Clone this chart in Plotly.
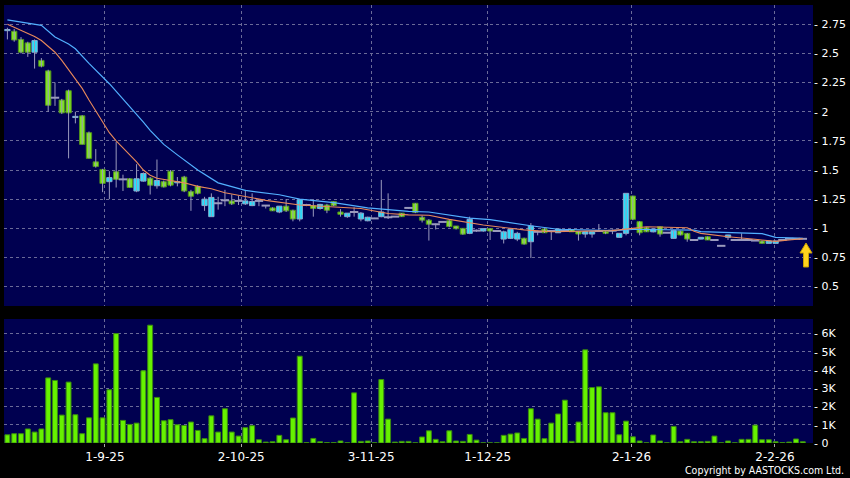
import plotly.graph_objects as go

# ---------------- data ----------------
opens = [2.695,2.69,2.62,2.59,2.51,2.44,2.35,2.12,2.10,2.18,
         1.95,1.965,1.82,1.57,1.505,1.40,1.485,1.42,1.425,1.32,
         1.405,1.43,1.365,1.40,1.49,1.39,1.44,1.315,1.36,1.195,
         1.10,1.215,1.24,1.235,1.235,1.21,1.195,1.235,1.195,1.175,
         1.14,1.19,1.155,1.08,1.20,1.195,1.17,1.20,1.23,1.14,
         1.10,1.14,1.08,1.065,1.085,1.10,1.095,1.10,1.13,1.175,
         1.215,1.095,1.07,1.035,1.055,1.065,1.02,1.0,0.957,0.98,
         0.977,0.997,0.977,0.908,0.914,0.908,0.915,0.885,0.97,0.994,
         0.977,0.962,0.977,0.99,0.974,0.951,0.951,0.977,0.974,0.98,
         0.923,0.957,1.277,1.057,1.005,0.97,1.014,0.962,0.914,0.977,
         0.957,0.90,0.908,0.928,0.90,0.85,0.923,0.90,0.90,0.90,
         0.895,0.891,0.871,0.871,0.90,0.91,0.91,0.91]
highs = [2.72,2.71,2.64,2.60,2.62,2.46,2.36,2.25,2.11,2.19,
         2.00,1.97,1.83,1.68,1.51,1.49,1.74,1.46,1.43,1.55,
         1.48,1.44,1.59,1.41,1.50,1.44,1.45,1.33,1.37,1.27,
         1.30,1.27,1.33,1.29,1.28,1.33,1.30,1.25,1.195,1.18,
         1.19,1.25,1.16,1.25,1.21,1.25,1.21,1.21,1.23,1.165,
         1.13,1.18,1.14,1.10,1.09,1.415,1.30,1.10,1.13,1.18,
         1.215,1.11,1.08,1.04,1.06,1.07,1.02,1.0,1.10,0.99,
         1.0,1.0,0.98,0.98,0.99,0.97,0.92,1.045,0.98,1.0,
         0.98,0.995,0.98,0.99,0.975,0.975,0.975,1.037,0.975,0.99,
         0.96,1.30,1.28,1.06,1.01,0.995,1.015,0.962,0.98,0.98,
         0.96,0.90,0.925,0.93,0.90,0.85,0.945,0.90,0.957,0.90,
         0.895,0.895,0.895,0.895,0.90,0.91,0.91,0.91]
lows  = [2.62,2.60,2.50,2.47,2.37,2.38,2.00,2.05,1.98,1.60,
         1.90,1.72,1.60,1.52,1.31,1.25,1.35,1.32,1.35,1.31,
         1.40,1.29,1.34,1.35,1.36,1.36,1.31,1.15,1.29,1.15,
         1.10,1.16,1.19,1.20,1.20,1.20,1.19,1.19,1.17,1.15,
         1.13,1.14,1.06,1.06,1.19,1.10,1.16,1.13,1.19,1.10,
         1.09,1.10,1.06,1.06,1.08,1.095,1.08,1.10,1.10,1.17,
         1.13,1.05,0.895,0.99,1.055,1.01,0.99,0.945,0.95,0.97,
         0.97,0.90,0.977,0.87,0.91,0.89,0.86,0.745,0.94,0.96,
         0.90,0.96,0.977,0.97,0.895,0.92,0.92,0.97,0.95,0.95,
         0.92,0.94,1.07,0.94,0.97,0.965,0.928,0.962,0.91,0.94,
         0.885,0.90,0.905,0.90,0.90,0.85,0.90,0.90,0.90,0.90,
         0.895,0.87,0.87,0.87,0.90,0.91,0.91,0.91]
closes = [2.705,2.615,2.51,2.51,2.61,2.39,2.055,2.12,1.99,1.99,
          1.96,1.72,1.60,1.53,1.385,1.435,1.42,1.42,1.35,1.425,
          1.47,1.37,1.41,1.355,1.37,1.40,1.32,1.275,1.30,1.25,
          1.265,1.215,1.24,1.21,1.235,1.235,1.23,1.235,1.195,1.15,
          1.19,1.15,1.08,1.245,1.20,1.17,1.205,1.155,1.195,1.12,
          1.13,1.14,1.13,1.095,1.085,1.14,1.095,1.10,1.10,1.175,
          1.137,1.07,1.035,1.035,1.055,1.015,0.997,0.95,1.077,0.98,
          0.997,0.977,0.977,0.97,0.991,0.957,0.865,1.02,0.97,0.962,
          0.977,0.994,0.977,0.97,0.951,0.971,0.971,0.977,0.957,0.98,
          0.957,1.30,1.077,0.962,0.97,0.994,0.951,0.962,0.98,0.943,
          0.908,0.90,0.923,0.90,0.90,0.85,0.943,0.90,0.90,0.90,
          0.895,0.871,0.891,0.891,0.90,0.91,0.91,0.91]
volume_k = [0.45,0.51,0.51,0.77,0.60,0.77,3.57,3.43,1.53,3.34,
            1.55,0.51,1.38,4.34,1.38,2.92,6.00,1.24,1.02,1.09,
            3.96,6.46,2.50,1.22,1.28,1.00,0.96,1.15,0.69,0.24,
            1.49,0.60,1.88,0.60,0.38,0.84,0.95,0.18,0.05,0.07,
            0.42,0.18,1.37,4.76,0.02,0.25,0.07,0.02,0.02,0.11,
            0.01,2.75,0.09,0.11,0.01,3.48,1.31,0.05,0.09,0.09,
            0.01,0.33,0.67,0.20,0.07,0.67,0.11,0.09,0.47,0.16,
            0.01,0.01,0.01,0.42,0.49,0.55,0.25,1.88,1.31,0.24,
            1.09,1.59,2.35,0.09,1.15,5.11,3.04,3.08,1.66,1.66,
            0.45,1.20,0.34,0.11,0.01,0.44,0.11,0.01,0.91,0.07,
            0.20,0.07,0.07,0.09,0.38,0.01,0.11,0.01,0.20,0.20,
            0.98,0.18,0.18,0.07,0.02,0.05,0.22,0.07]

# moving-average lines, read at a subset of bars
ma_fast_idx = [0,2,4,5,7,8,9,10,11,12,13,14,15,16,17,18,19,20,21,22,24,26,28,30,32,38,43,48,52,56,59,62,65,70,76,80,89,92,94,100,101,102,106,110,113,115,117]
ma_fast_val = [2.75,2.70,2.645,2.61,2.51,2.44,2.36,2.29,2.20,2.10,2.01,1.92,1.82,1.75,1.69,1.63,1.57,1.50,1.455,1.43,1.41,1.39,1.36,1.34,1.305,1.24,1.20,1.185,1.17,1.127,1.115,1.112,1.077,1.028,0.987,0.971,0.98,1.0,1.013,1.005,0.975,0.957,0.928,0.906,0.888,0.90,0.912]
ma_slow_idx = [0,2,4,5,7,9,10,12,15,18,20,21,23,25,28,31,35,40,43,48,53,59,62,68,71,77,81,89,92,94,101,102,106,111,113,117]
ma_slow_val = [2.787,2.768,2.75,2.74,2.64,2.58,2.54,2.415,2.24,2.045,1.91,1.84,1.72,1.63,1.50,1.39,1.325,1.288,1.25,1.22,1.176,1.145,1.14,1.088,1.075,1.022,0.992,0.98,0.99,0.99,0.984,0.972,0.962,0.955,0.922,0.915]

date_labels = ["1-9-25", "2-10-25", "3-11-25", "1-12-25", "2-1-26", "2-2-26"]
date_tick_pos = [14.35, 34.4, 53.5, 70.65, 91.8, 112.9]
price_ticks = [0.5, 0.75, 1, 1.25, 1.5, 1.75, 2, 2.25, 2.5, 2.75]
vol_ticks = [0, 1, 2, 3, 4, 5, 6]

# ---------------- styling ----------------
BG = "#000050"
GRID = "#6a6a98"
GREEN_FILL, GREEN_LINE = "#80e61e", "#4f8f1f"
CYAN_FILL, CYAN_LINE = "#22e2ff", "#86aed0"
DOJI = "#9a9abd"
WICK = "#9a9abd"
VOL_FILL, VOL_LINE = "#66f200", "#3a8a10"
GRID_DASH = "3px,3px"

n = len(closes)
idx = list(range(n))

wx, wy = [], []
for i in range(n):
    wx += [i, i, None]
    wy += [lows[i], highs[i], None]

up_x, up_b, up_h = [], [], []
dn_x, dn_b, dn_h = [], [], []
dj_x, dj_y = [], []
for i in range(n):
    o, c = opens[i], closes[i]
    if c > o:
        up_x.append(i); up_b.append(o); up_h.append(c - o)
    elif c < o:
        dn_x.append(i); dn_b.append(c); dn_h.append(o - c)
    else:
        dj_x.append(i); dj_y.append(o)

fig = go.Figure()
fig.add_trace(go.Scatter(x=wx, y=wy, mode="lines", line=dict(color=WICK, width=1),
                         hoverinfo="skip", showlegend=False, xaxis="x", yaxis="y"))
fig.add_trace(go.Bar(x=dn_x, y=dn_h, base=dn_b, width=0.78,
                     marker=dict(color=GREEN_FILL, line=dict(color=GREEN_LINE, width=1)),
                     showlegend=False, xaxis="x", yaxis="y"))
fig.add_trace(go.Bar(x=up_x, y=up_h, base=up_b, width=0.78,
                     marker=dict(color=CYAN_FILL, line=dict(color=CYAN_LINE, width=1)),
                     showlegend=False, xaxis="x", yaxis="y"))
fig.add_trace(go.Scatter(x=dj_x, y=dj_y, mode="markers",
                         marker=dict(symbol="line-ew", size=6, line=dict(color=DOJI, width=2)),
                         showlegend=False, xaxis="x", yaxis="y"))
fig.add_trace(go.Scatter(x=ma_slow_idx, y=ma_slow_val, mode="lines",
                         line=dict(color="#52b0ff", width=1.2), showlegend=False,
                         xaxis="x", yaxis="y"))
fig.add_trace(go.Scatter(x=ma_fast_idx, y=ma_fast_val, mode="lines",
                         line=dict(color="#e8895a", width=1.1), showlegend=False,
                         xaxis="x", yaxis="y"))
fig.add_trace(go.Bar(x=idx, y=volume_k, width=0.72,
                     marker=dict(color=VOL_FILL, line=dict(color=VOL_LINE, width=1)),
                     showlegend=False, xaxis="x", yaxis="y2"))

tickfont = dict(family="DejaVu Sans", size=11, color="#ffffff")

def fmt(v):
    return "- " + ("%g" % v)

fig.update_layout(
    width=850, height=478,
    paper_bgcolor="#000000", plot_bgcolor=BG,
    margin=dict(l=4, r=37, t=5, b=35),
    barmode="overlay",
    xaxis=dict(domain=[0, 1], anchor="y2", range=[-0.5, 118.5],
               tickmode="array", tickvals=date_tick_pos, ticktext=date_labels,
               showgrid=True, gridcolor=GRID, griddash=GRID_DASH, gridwidth=1,
               zeroline=False, showline=False,
               ticks="outside", ticklen=3, tickcolor="#aaaaaa",
               tickfont=dict(family="DejaVu Sans", size=12, color="#ffffff")),
    yaxis=dict(domain=[0.3128, 1], side="right", range=[0.334, 2.915],
               tickmode="array", tickvals=price_ticks,
               ticktext=[fmt(v) for v in price_ticks],
               showgrid=True, gridcolor=GRID, griddash=GRID_DASH, gridwidth=1,
               zeroline=False, showline=False, ticks="",
               tickfont=tickfont),
    yaxis2=dict(domain=[0, 0.2831], side="right", range=[0, 6.80],
                tickmode="array", tickvals=vol_ticks,
                ticktext=["- 0"] + ["- %dK" % v for v in vol_ticks[1:]],
                showgrid=True, gridcolor=GRID, griddash=GRID_DASH, gridwidth=1,
                zeroline=False, showline=False, ticks="",
                tickfont=tickfont),
    hovermode=False,
)

# yellow "last price" arrow (decoration)
def px2paper(px, py):
    return (px - 4) / 809.0, (443 - py) / 438.0

pts = [(806, 243), (812, 253), (808.5, 253), (808.5, 267), (803.5, 267), (803.5, 253), (800, 253)]
path = ""
for k, (a, b) in enumerate(pts):
    xp, yp = px2paper(a, b)
    path += ("M" if k == 0 else "L") + "%.5f,%.5f " % (xp, yp)
path += "Z"
fig.add_shape(type="path", path=path, xref="paper", yref="paper",
              fillcolor="#ffd21e", line=dict(color="#c8a000", width=1))

fig.add_annotation(text="Copyright by AASTOCKS.com Ltd.", xref="paper", yref="paper",
                   x=(846 - 4) / 809.0, y=(443 - 470) / 438.0, xanchor="right", yanchor="middle",
                   showarrow=False,
                   font=dict(family="DejaVu Sans Condensed", size=10.5, color="#ffffff"))

fig.write_html("out.html", config={"displayModeBar": False},
               post_script="document.body.style.margin='0';document.body.style.background='#000';")
